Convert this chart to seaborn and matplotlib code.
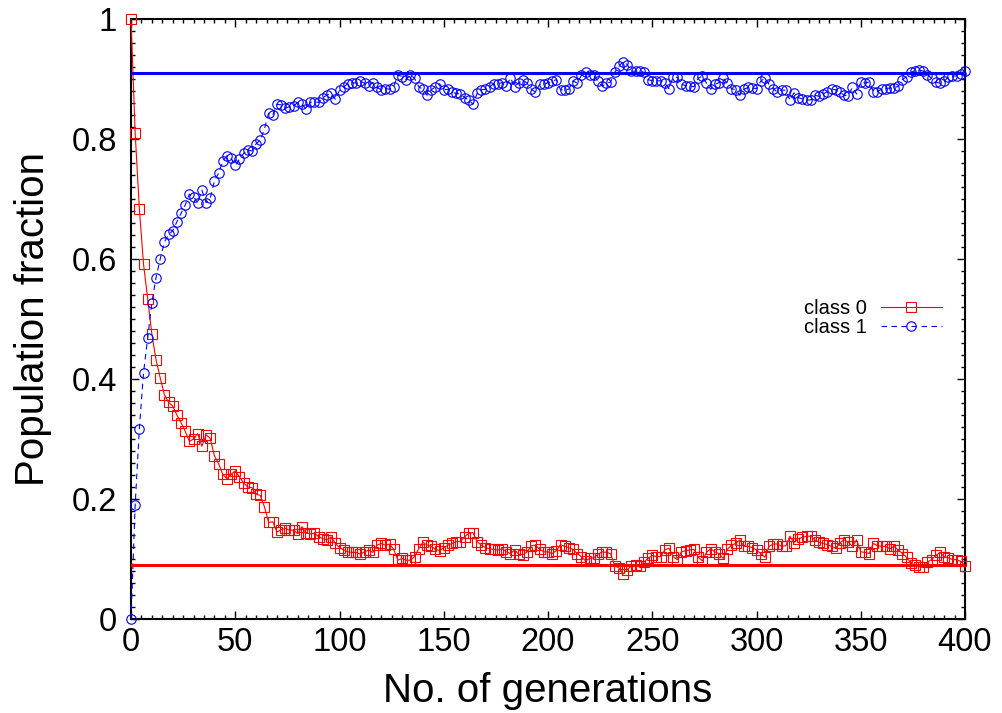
import matplotlib
matplotlib.use("Agg")
import matplotlib.pyplot as plt
import seaborn as sns
from matplotlib.ticker import MultipleLocator

# Generation index of each sample (every second generation)
generations = list(range(0, 401, 2))

# Fraction of the population in class 0
class0 = [
    1.0, 0.81, 0.684, 0.592, 0.534, 0.475, 0.432, 0.402, 0.374, 0.361,
    0.355, 0.340, 0.327, 0.313, 0.296, 0.300, 0.309, 0.288, 0.307, 0.301,
    0.272, 0.259, 0.241, 0.234, 0.241, 0.247, 0.237, 0.227, 0.220, 0.219,
    0.208, 0.206, 0.187, 0.161, 0.162, 0.145, 0.149, 0.151, 0.148, 0.148,
    0.142, 0.154, 0.143, 0.142, 0.143, 0.137, 0.134, 0.132,
    0.137, 0.126, 0.119, 0.115, 0.112, 0.111, 0.111, 0.108, 0.112, 0.115,
    0.111, 0.123, 0.126, 0.123, 0.125, 0.116, 0.098, 0.101, 0.098, 0.098,
    0.104, 0.117, 0.128, 0.123, 0.121, 0.116, 0.114, 0.119, 0.123, 0.126,
    0.129, 0.129, 0.137, 0.143, 0.144, 0.129, 0.123, 0.119, 0.117, 0.116,
    0.115, 0.117, 0.112, 0.109, 0.115, 0.108, 0.107, 0.112, 0.122, 0.123,
    0.116, 0.112, 0.112, 0.109, 0.114, 0.124, 0.121, 0.119, 0.116, 0.109,
    0.104, 0.097, 0.101, 0.102, 0.108, 0.112, 0.111, 0.109, 0.089, 0.085,
    0.075, 0.082, 0.089, 0.090, 0.089, 0.095, 0.101, 0.106,
    0.104, 0.104, 0.115, 0.118, 0.104, 0.099, 0.112, 0.114, 0.115, 0.116,
    0.103, 0.097, 0.111, 0.117, 0.112, 0.109, 0.101, 0.116, 0.123, 0.126,
    0.132, 0.121, 0.121, 0.119, 0.115, 0.109, 0.103, 0.121, 0.125, 0.125,
    0.121, 0.122, 0.138, 0.127, 0.134, 0.136, 0.138, 0.138, 0.132, 0.128,
    0.126, 0.124, 0.121, 0.118, 0.127, 0.132, 0.128, 0.121, 0.132, 0.112,
    0.111, 0.109, 0.126, 0.122, 0.121, 0.121, 0.117, 0.121, 0.115, 0.109,
    0.103, 0.093, 0.090, 0.087, 0.086, 0.095, 0.099, 0.106, 0.111, 0.104,
    0.102, 0.099, 0.099, 0.096, 0.089,
]

# Fraction of the population in class 1
class1 = [
    0.0, 0.19, 0.317, 0.41, 0.469, 0.527, 0.569, 0.600, 0.628, 0.641,
    0.647, 0.662, 0.676, 0.690, 0.708, 0.704, 0.693, 0.715, 0.694, 0.701,
    0.730, 0.743, 0.763, 0.772, 0.768, 0.756, 0.766, 0.776, 0.782, 0.780,
    0.792, 0.798, 0.817, 0.843, 0.840, 0.858, 0.857, 0.851, 0.854, 0.855,
    0.861, 0.858, 0.850, 0.861, 0.862, 0.861, 0.869, 0.873,
    0.876, 0.866, 0.881, 0.887, 0.892, 0.894, 0.893, 0.896, 0.893, 0.888,
    0.894, 0.886, 0.882, 0.884, 0.883, 0.887, 0.907, 0.904, 0.899, 0.907,
    0.901, 0.887, 0.883, 0.873, 0.882, 0.887, 0.892, 0.882, 0.883, 0.878,
    0.876, 0.875, 0.869, 0.865, 0.858, 0.876, 0.882, 0.883, 0.887, 0.892,
    0.892, 0.894, 0.888, 0.902, 0.887, 0.894, 0.898, 0.893, 0.883, 0.878,
    0.891, 0.891, 0.894, 0.896, 0.899, 0.882, 0.882, 0.883, 0.897, 0.893,
    0.906, 0.911, 0.906, 0.906, 0.896, 0.888, 0.893, 0.895, 0.911, 0.921,
    0.929, 0.924, 0.913, 0.913, 0.914, 0.911, 0.899, 0.897,
    0.897, 0.897, 0.893, 0.884, 0.903, 0.903, 0.891, 0.889, 0.889, 0.887,
    0.901, 0.905, 0.893, 0.883, 0.891, 0.894, 0.901, 0.893, 0.884, 0.882,
    0.873, 0.883, 0.886, 0.885, 0.884, 0.896, 0.902, 0.891, 0.884, 0.878,
    0.882, 0.881, 0.865, 0.877, 0.869, 0.867, 0.865, 0.865, 0.873, 0.871,
    0.875, 0.879, 0.883, 0.882, 0.878, 0.873, 0.872, 0.886, 0.875, 0.895,
    0.893, 0.895, 0.879, 0.879, 0.883, 0.884, 0.885, 0.885, 0.888, 0.899,
    0.904, 0.911, 0.914, 0.915, 0.913, 0.907, 0.901, 0.895, 0.893, 0.896,
    0.903, 0.905, 0.905, 0.909, 0.914,
]

# Equilibrium fractions
eq_class0 = 0.09
eq_class1 = 0.91

x_ticks = [0, 50, 100, 150, 200, 250, 300, 350, 400]
y_ticks = [0, 0.2, 0.4, 0.6, 0.8, 1.0]
y_tick_labels = ["0", "0.2", "0.4", "0.6", "0.8", "1"]

sns.set_style("ticks")
plt.rcParams["font.family"] = ["Liberation Sans", "DejaVu Sans"]
plt.rcParams["text.color"] = "black"
plt.rcParams["axes.labelcolor"] = "black"

fig = plt.figure(figsize=(10.03, 7.13), dpi=100)
ax = fig.add_axes([131 / 1003, 1 - 619 / 713, 834 / 1003, 600 / 713])

red = "#ff0000"
blue = "#0000ff"

sns.lineplot(x=generations, y=class0, ax=ax, color=red, linewidth=0.8,
             marker="s", markersize=6.8, markerfacecolor="none",
             markeredgecolor=red, markeredgewidth=0.8, label="class 0",
             clip_on=False, zorder=3)
sns.lineplot(x=generations, y=class1, ax=ax, color=blue, linewidth=0.8,
             linestyle=(0, (5, 4)), marker="o", markersize=6.8,
             markerfacecolor="none", markeredgecolor=blue,
             markeredgewidth=0.8, label="class 1", clip_on=False, zorder=3)

ax.axhline(eq_class0, color=red, linewidth=2.2, zorder=4)
ax.axhline(eq_class1, color=blue, linewidth=2.2, zorder=4)

ax.set_xlim(0, 400)
ax.set_ylim(0, 1)
ax.set_xticks(x_ticks)
ax.set_xticklabels([str(t) for t in x_ticks])
ax.set_yticks(y_ticks)
ax.set_yticklabels(y_tick_labels)
ax.xaxis.set_minor_locator(MultipleLocator(5))
ax.yaxis.set_minor_locator(MultipleLocator(0.02))
ax.tick_params(which="both", direction="in", top=True, right=True,
               width=1.0, color="black", labelcolor="black")
ax.tick_params(which="major", length=6, labelsize=23.5)
ax.tick_params(which="minor", length=3)
ax.tick_params(axis="x", which="major", pad=6)
ax.tick_params(axis="y", which="major", pad=10)
for spine in ax.spines.values():
    spine.set_linewidth(1.5)
    spine.set_color("black")

ax.set_xlabel("No. of generations", fontsize=29)
ax.set_ylabel("Population fraction", fontsize=29)
ax.xaxis.set_label_coords(0.5, -0.088)
ax.yaxis.set_label_coords(-0.095, 0.5)

ax.legend(loc="center right", bbox_to_anchor=(0.972, 0.502), frameon=False,
          markerfirst=False, handlelength=3.0, fontsize=14.5,
          labelspacing=0.02, handletextpad=0.7, borderpad=0,
          borderaxespad=0)

fig.savefig("out.png", dpi=100)
